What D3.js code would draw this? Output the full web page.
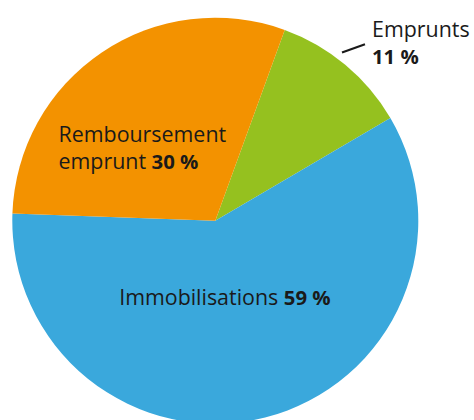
<!DOCTYPE html>
<html><head><meta charset="utf-8">
<script src="https://cdn.jsdelivr.net/npm/d3@7"></script>
<style>
html,body{margin:0;padding:0;background:#fff;}
svg text{font-family:"Open Sans",sans-serif;fill:#1a1a1a;}
</style></head>
<body><svg id="c" width="474" height="420"></svg>
<script>
const categories = ["Emprunts", "Immobilisations", "Remboursement emprunt"];
const values = [11, 59, 30];
const colors = ["#95c11f", "#3aa8dc", "#f39200"];

const W = 474, H = 420;
const cx = 215.3, cy = 220.7, R = 203;
const svg = d3.select("#c");
const g = svg.append("g").attr("transform", `translate(${cx},${cy})`);

const start = 20 * Math.PI / 180;
const pie = d3.pie().sort(null).startAngle(start).endAngle(start + 2 * Math.PI);
const arcs = pie(values);
const arc = d3.arc().innerRadius(0).outerRadius(R);

g.selectAll("path").data(arcs).enter().append("path")
  .attr("d", arc)
  .attr("fill", (d, i) => colors[i]);

const fs = 21.4;
function label(lines, x, y) {
  const t = svg.append("text").attr("font-size", fs);
  lines.forEach((parts, li) => {
    parts.forEach((p, pi) => {
      const ts = t.append("tspan").text(p.t);
      if (p.b) ts.attr("font-weight", "bold").attr("font-size", fs * 0.95);
      if (pi === 0) ts.attr("x", x).attr("y", y + li * 27);
    });
  });
  return t;
}
const pct = v => v + " %";
// Remboursement (index 2)
const c2 = arc.centroid(arcs[2]);
label([[{t: "Remboursement"}], [{t: "emprunt "}, {t: pct(values[2]), b: true}]], cx + c2[0] - 100, cy + c2[1] + 5.5);
// Immobilisations (index 1)
const c1 = arc.centroid(arcs[1]);
label([[{t: "Immobilisations "}, {t: pct(values[1]), b: true}]], cx + c1[0] - 121, cy + c1[1] - 14);
// Emprunts (index 0) outside
label([[{t: categories[0]}], [{t: pct(values[0]), b: true}]], 372, 37);
svg.append("line").attr("x1", 342).attr("y1", 52.5).attr("x2", 365).attr("y2", 44.3)
  .attr("stroke", "#1a1a1a").attr("stroke-width", 2.2);
</script></body></html>
